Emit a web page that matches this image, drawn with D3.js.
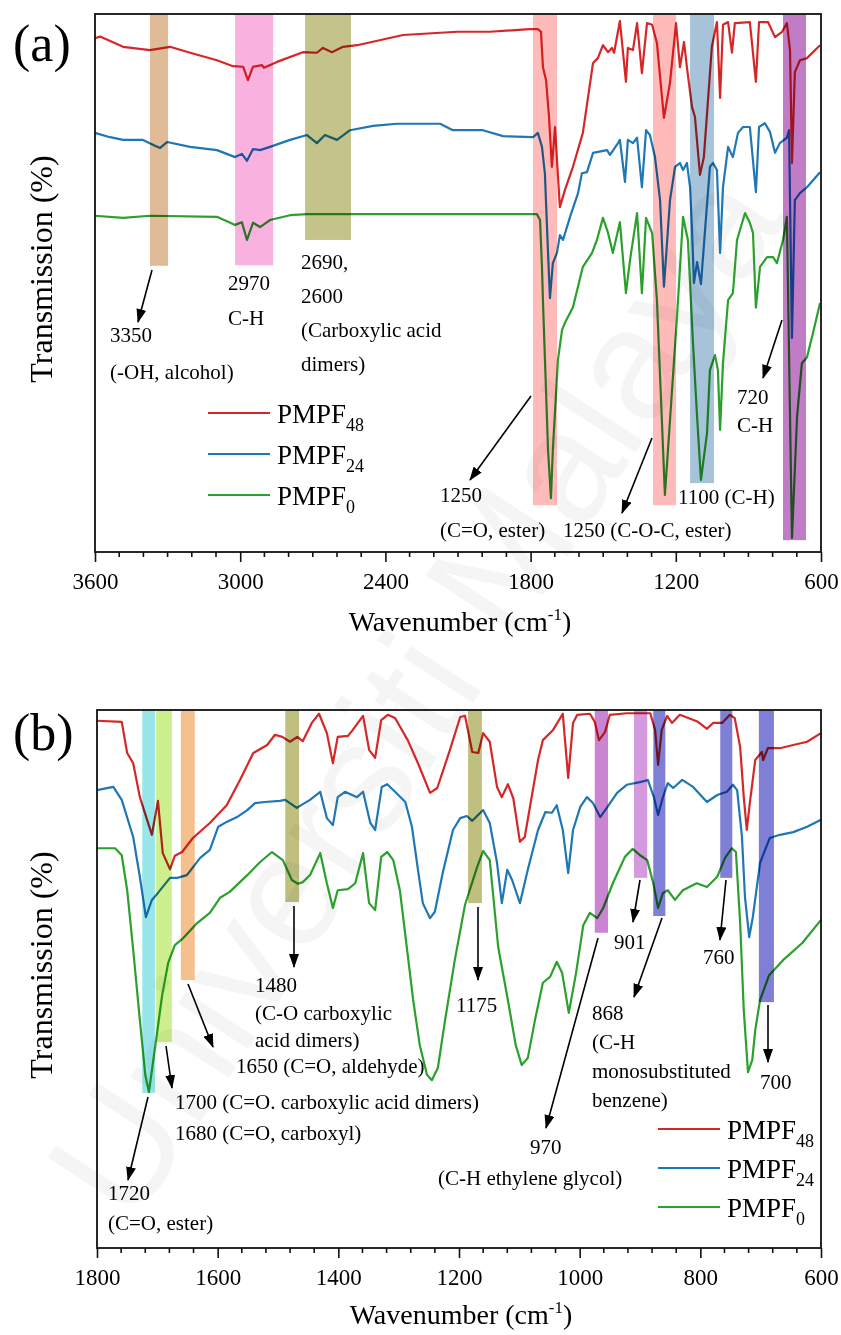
<!DOCTYPE html>
<html><head><meta charset="utf-8">
<script src="https://cdn.jsdelivr.net/npm/d3@7"></script>
<style>
body{margin:0;background:#fff}
svg{display:block}
text{font-family:"Liberation Serif","Times New Roman",serif;fill:#000}
</style>
</head><body>
<svg id="c" width="841" height="1335"></svg>
<script>
// ---------------- DATA ----------------
const seriesNames = ["PMPF48", "PMPF24", "PMPF0"];
const seriesBase = ["PMPF", "PMPF", "PMPF"];
const seriesSub = ["48", "24", "0"];

// Panel (a): [wavenumber cm-1, transmission (a.u., offset)]
const redA = [[3600,95.5],[3579,95.8],[3484,93.9],[3373,93.3],[3290,93.9],[3207,92.8],[3096,91.4],[3030,90.3],[2988,90.2],[2968,87.7],[2947,90.2],[2910,90.5],[2902,90.0],[2848,91.1],[2741,92.9],[2683,92.8],[2658,93.7],[2621,92.9],[2575,93.9],[2517,94.2],[2327,96.1],[2104,96.7],[1968,96.7],[1803,97.2],[1770,97.2],[1757,96.7],[1749,90.1],[1736,87.7],[1724,80.9],[1712,71.6],[1699,79.0],[1691,72.9],[1679,64.1],[1658,67.3],[1625,71.6],[1584,77.9],[1542,90.9],[1522,91.8],[1501,94.2],[1480,92.9],[1464,93.7],[1455,92.8],[1431,98.7],[1406,87.4],[1398,93.7],[1377,93.3],[1360,98.3],[1340,89.0],[1319,98.3],[1298,98.0],[1278,94.6],[1249,80.7],[1224,87.2],[1199,98.3],[1183,90.1],[1166,94.8],[1154,90.1],[1133,82.7],[1121,80.9],[1100,70.1],[1084,73.4],[1051,93.9],[1030,98.5],[1017,84.4],[1005,98.0],[984,98.5],[968,92.8],[956,98.3],[894,98.5],[869,87.4],[856,98.5],[819,98.5],[790,95.7],[761,96.7],[741,98.3],[728,93.3],[720,72.3],[708,89.2],[687,91.4],[658,91.8],[604,94.2]];
const blueA = [[3600,77.9],[3538,77.1],[3484,76.6],[3402,76.6],[3352,75.5],[3331,75.1],[3302,76.2],[3207,75.3],[3096,74.7],[3021,73.4],[2993,74.0],[2972,72.7],[2947,74.9],[2918,74.7],[2877,75.3],[2794,76.6],[2724,77.5],[2683,76.0],[2650,77.5],[2600,76.6],[2546,78.4],[2451,79.2],[2352,79.6],[2174,79.6],[2121,78.4],[1997,78.4],[1914,77.3],[1790,77.1],[1770,77.9],[1753,75.3],[1741,70.4],[1728,55.6],[1720,47.2],[1708,53.7],[1691,55.6],[1679,58.9],[1666,58.0],[1637,62.3],[1604,66.7],[1588,70.4],[1567,70.6],[1542,74.2],[1484,74.7],[1472,73.8],[1443,75.7],[1431,76.6],[1410,68.8],[1398,76.6],[1377,76.0],[1360,77.0],[1340,67.8],[1323,78.4],[1307,77.5],[1286,73.4],[1265,65.4],[1249,49.3],[1224,65.4],[1203,71.6],[1183,72.3],[1170,71.0],[1154,72.3],[1141,67.8],[1133,59.9],[1125,50.0],[1112,53.9],[1096,49.8],[1075,62.3],[1059,71.6],[1046,72.3],[1030,71.0],[1017,55.6],[1005,67.8],[984,75.3],[964,73.4],[943,77.9],[922,79.0],[894,79.0],[869,66.9],[856,79.0],[832,79.7],[811,78.1],[790,74.2],[770,76.0],[741,77.0],[732,78.4],[720,39.8],[708,65.4],[687,66.7],[658,67.8],[604,70.6]];
const greenA = [[3600,62.5],[3484,62.1],[3373,62.5],[3096,62.3],[3021,60.8],[2993,61.3],[2972,58.0],[2947,61.2],[2918,60.4],[2877,61.7],[2794,62.6],[2724,62.8],[1774,62.8],[1761,61.7],[1753,53.0],[1749,46.8],[1728,19.0],[1716,10.0],[1708,19.0],[1687,35.7],[1670,41.3],[1658,42.6],[1625,45.5],[1584,53.0],[1546,55.6],[1526,58.0],[1501,62.1],[1480,59.3],[1460,55.6],[1431,61.3],[1406,48.1],[1389,54.3],[1360,63.0],[1340,48.1],[1323,62.1],[1298,59.3],[1278,46.8],[1261,28.3],[1245,10.6],[1224,24.5],[1195,43.7],[1170,62.3],[1150,58.0],[1129,38.8],[1112,25.1],[1096,13.4],[1071,22.1],[1059,33.8],[1038,36.6],[1026,33.8],[1017,22.7],[1005,35.1],[984,46.8],[964,48.1],[947,58.0],[914,63.0],[894,61.2],[881,59.3],[869,45.4],[852,53.0],[823,54.8],[798,54.8],[782,53.7],[757,58.0],[741,62.3],[720,2.6],[699,25.1],[679,35.1],[658,36.2],[633,40.7],[604,46.3]];

// Panel (b)
const redB = [[1800,98.0],[1759,97.8],[1750,92.0],[1740,90.1],[1729,83.8],[1709,76.8],[1699,83.1],[1691,73.4],[1679,70.4],[1671,72.9],[1659,73.6],[1641,76.2],[1613,79.0],[1585,82.3],[1563,87.0],[1541,92.0],[1518,93.5],[1505,95.4],[1493,95.0],[1480,94.1],[1468,95.0],[1459,94.2],[1444,97.6],[1432,99.3],[1419,95.7],[1409,90.1],[1401,95.0],[1384,95.2],[1376,96.3],[1359,98.9],[1349,92.6],[1339,91.1],[1329,98.1],[1318,99.1],[1306,98.5],[1285,94.4],[1268,90.1],[1248,84.6],[1236,85.5],[1215,92.6],[1198,98.7],[1190,98.9],[1178,92.2],[1168,92.0],[1160,95.7],[1149,94.1],[1137,85.7],[1129,83.8],[1119,86.2],[1110,83.6],[1099,75.5],[1091,76.4],[1069,90.7],[1061,94.4],[1044,96.3],[1028,99.3],[1019,87.4],[1011,97.6],[1004,99.1],[983,99.3],[975,97.8],[968,94.4],[958,95.9],[950,99.1],[922,99.4],[883,99.4],[875,96.3],[870,89.8],[864,96.3],[855,98.9],[847,97.6],[834,99.1],[804,97.8],[789,96.5],[779,97.6],[764,97.6],[751,99.1],[743,98.5],[734,93.1],[728,83.8],[723,77.7],[718,82.7],[709,90.7],[698,92.2],[696,90.7],[688,92.9],[668,92.9],[646,93.5],[623,94.1],[600,95.7]];
const blueB = [[1800,85.1],[1773,85.7],[1759,83.3],[1740,76.4],[1729,69.0],[1719,61.5],[1709,64.7],[1699,66.0],[1679,68.8],[1667,68.8],[1651,69.3],[1629,72.5],[1613,74.0],[1599,78.3],[1585,79.2],[1568,80.1],[1551,81.4],[1538,82.7],[1522,82.9],[1497,83.1],[1488,83.3],[1469,81.8],[1447,83.3],[1430,84.8],[1419,79.9],[1409,78.6],[1401,83.8],[1389,84.8],[1369,83.8],[1359,84.8],[1347,79.0],[1339,77.7],[1328,85.7],[1319,86.2],[1306,84.8],[1289,82.9],[1278,78.3],[1268,70.3],[1260,64.1],[1248,61.3],[1240,62.5],[1227,69.7],[1210,77.7],[1198,79.9],[1187,80.3],[1178,79.4],[1160,81.4],[1149,79.0],[1137,71.6],[1129,64.1],[1120,70.3],[1112,68.4],[1099,64.1],[1086,70.3],[1069,77.7],[1057,81.0],[1046,80.9],[1038,82.3],[1028,77.7],[1019,69.7],[1011,77.7],[999,82.0],[988,83.8],[978,82.7],[966,80.1],[955,81.8],[938,84.6],[922,86.1],[900,86.6],[887,87.0],[877,83.8],[870,80.5],[862,83.8],[854,86.4],[845,85.5],[830,87.0],[812,85.7],[789,82.9],[772,84.2],[756,84.8],[746,86.1],[739,85.1],[731,76.4],[726,65.2],[719,57.8],[713,61.5],[701,71.6],[685,76.2],[668,76.8],[646,77.3],[623,78.3],[600,79.6]];
const greenB = [[1800,74.3],[1770,74.3],[1759,73.0],[1750,66.5],[1740,55.4],[1729,42.4],[1720,32.2],[1714,29.0],[1702,38.7],[1692,47.0],[1682,53.0],[1671,56.3],[1657,57.6],[1634,60.4],[1613,62.3],[1596,65.1],[1580,66.2],[1551,69.3],[1530,71.7],[1510,73.6],[1492,72.1],[1477,68.4],[1467,67.7],[1459,68.0],[1447,69.3],[1430,73.4],[1419,67.8],[1409,63.2],[1401,66.5],[1384,66.7],[1372,67.8],[1359,73.4],[1349,64.1],[1339,62.8],[1329,72.7],[1319,73.6],[1309,72.1],[1298,66.5],[1286,55.4],[1276,46.1],[1265,37.7],[1253,32.2],[1245,31.2],[1235,33.5],[1223,42.4],[1207,53.5],[1190,63.8],[1170,70.8],[1160,73.8],[1149,72.1],[1135,55.9],[1119,46.1],[1106,37.7],[1096,34.0],[1086,35.3],[1074,42.4],[1061,49.3],[1049,50.4],[1038,53.2],[1029,51.1],[1018,43.7],[1006,51.1],[994,60.0],[983,62.3],[971,61.3],[961,63.2],[945,67.8],[925,72.7],[912,74.2],[900,73.0],[888,72.1],[878,67.8],[870,63.2],[862,66.0],[854,66.5],[842,64.7],[829,66.5],[806,67.8],[789,67.1],[772,69.0],[759,72.5],[748,74.3],[741,73.6],[734,60.4],[728,44.2],[721,32.7],[714,34.9],[709,40.5],[701,46.1],[686,50.7],[663,53.5],[631,56.7],[600,61.0]];

// Highlighted absorption bands: [low cm-1, high cm-1, lower end (transmission)]
const bandsA = [[3298,3373,53.2],[2864,3021,53.3],[2542,2732,58.0],[1691,1790,8.7],[1199,1294,8.7],[1042,1141,12.8],[662,757,2.2]];
const bandsB = [[1704,1725,28.8],[1676,1702,38.3],[1638,1661,49.8],[1465,1488,64.3],[1162,1185,64.1],[953,975,58.6],[888,910,68.8],[858,878,61.7],[747,767,68.8],[678,703,45.7]];

// Axis ticks
const majorA = [3600,3000,2400,1800,1200,600];
const minorA = d3.range(3600, 599, -100);
const majorB = [1800,1600,1400,1200,1000,800,600];
const minorB = d3.range(1800, 599, -40);

// ---------------- STYLE / LAYOUT ----------------
const lineColors = ["#d62728", "#1f77b4", "#2ca02c"];
const bandColorsA = ["#dfbb98","#f9b2df","#c4c48a","#ffbaba","#ffbaba","#a6c3da","#c07dc6"];
const bandColorsB = ["#98e6ea","#cdef8e","#f6bf8e","#bfbf80","#bfbf80","#c985d2","#d49ade","#7f7fd6","#7f7fd6","#7f7fd6"];

const svg = d3.select("#c");

// very faint watermark
svg.append("text")
  .attr("transform", "translate(425,700) rotate(-57)")
  .attr("text-anchor", "middle").attr("dominant-baseline", "middle")
  .style("font-family", "'Liberation Sans',Arial,sans-serif")
  .style("font-size", "158px").style("fill", "#000").style("opacity", 0.035)
  .text("Universiti Malaya");

const defs = svg.append("defs");
defs.append("marker").attr("id", "ah")
  .attr("viewBox", "0 0 14 10").attr("refX", 13).attr("refY", 5)
  .attr("markerWidth", 14).attr("markerHeight", 10)
  .attr("markerUnits", "userSpaceOnUse").attr("orient", "auto")
  .append("path").attr("d", "M0,0L14,5L0,10z").attr("fill", "#000");

function drawPanel(cfg) {
  const g = svg.append("g").attr("transform", `translate(${cfg.left},${cfg.top})`);
  const x = d3.scaleLinear().domain(cfg.xDomain).range([0, cfg.w]);
  const y = d3.scaleLinear().domain([0, 100]).range([cfg.h, 0]);
  const line = d3.line().x(d => x(d[0])).y(d => y(d[1]));

  [2, 1, 0].forEach(i => {
    g.append("path").datum(cfg.series[i])
      .attr("d", line).attr("fill", "none")
      .attr("stroke", lineColors[i]).attr("stroke-width", 2.2)
      .attr("stroke-linejoin", "round");
  });

  g.selectAll("rect.band").data(cfg.bands).enter().append("rect")
    .attr("class", "band")
    .attr("x", d => x(d[1])).attr("width", d => x(d[0]) - x(d[1]))
    .attr("y", 0).attr("height", d => y(d[2]))
    .attr("fill", (d, i) => cfg.bandColors[i])
    .style("mix-blend-mode", "multiply");

  g.append("rect").attr("width", cfg.w).attr("height", cfg.h)
    .attr("fill", "none").attr("stroke", "#111").attr("stroke-width", 1.8);

  const ax = g.append("g").attr("transform", `translate(0,${cfg.h})`);
  ax.call(d3.axisBottom(x).tickValues(cfg.major).tickSize(10).tickFormat(d3.format("d")));
  ax.select(".domain").remove();
  ax.selectAll(".tick line").attr("stroke", "#111").attr("stroke-width", 1.6);
  ax.selectAll(".tick text").attr("y", 37).attr("dy", 0)
    .style("font-family", "'Liberation Serif','Times New Roman',serif")
    .style("font-size", "23px").attr("fill", "#000");
  ax.selectAll("line.minor").data(cfg.minor.filter(v => !cfg.major.includes(v))).enter()
    .append("line").attr("class", "minor")
    .attr("x1", d => x(d)).attr("x2", d => x(d)).attr("y1", 0).attr("y2", 5)
    .attr("stroke", "#111").attr("stroke-width", 1.6);

  const xt = g.append("text").attr("x", cfg.w / 2 + 2).attr("y", cfg.xTitleY)
    .attr("text-anchor", "middle").style("font-size", "28px");
  xt.append("tspan").text("Wavenumber (cm");
  xt.append("tspan").attr("dy", -11).style("font-size", "17px").text("-1");
  xt.append("tspan").attr("dy", 11).text(")");

  g.append("text")
    .attr("transform", `translate(${cfg.yTitleX},${cfg.yTitleY}) rotate(-90)`)
    .attr("text-anchor", "middle").style("font-size", "32px")
    .text("Transmission (%)");

  g.append("text").attr("x", cfg.letterX).attr("y", cfg.letterY)
    .style("font-size", "52px").text(cfg.letter);

  seriesNames.forEach((n, i) => {
    const ly = cfg.legY + i * cfg.legDy;
    g.append("line").attr("x1", cfg.legX).attr("x2", cfg.legX + 62)
      .attr("y1", ly).attr("y2", ly)
      .attr("stroke", lineColors[i]).attr("stroke-width", 2.2);
    const t = g.append("text").attr("x", cfg.legX + 69).attr("y", ly + 10)
      .style("font-size", "27px");
    t.append("tspan").text(seriesBase[i]);
    t.append("tspan").attr("dy", 8).style("font-size", "18px").text(seriesSub[i]);
  });

  cfg.notes.forEach(n => {
    g.append("text").attr("x", n[0] - cfg.left).attr("y", n[1] - cfg.top + 7)
      .style("font-size", "21px").text(n[2]);
  });
  cfg.arrows.forEach(a => {
    g.append("line")
      .attr("x1", a[0] - cfg.left).attr("y1", a[1] - cfg.top)
      .attr("x2", a[2] - cfg.left).attr("y2", a[3] - cfg.top)
      .attr("stroke", "#000").attr("stroke-width", 1.6)
      .attr("marker-end", "url(#ah)");
  });
}

drawPanel({
  left: 95, top: 14, w: 726, h: 538,
  xDomain: [3600, 600],
  series: [redA, blueA, greenA],
  bands: bandsA, bandColors: bandColorsA,
  major: majorA, minor: minorA,
  xTitleY: 617, yTitleX: -43, yTitleY: 255,
  letter: "(a)", letterX: -82, letterY: 47,
  legX: 113, legY: 399, legDy: 41,
  notes: [
    [110, 335, "3350"], [110, 372, "(-OH, alcohol)"],
    [228, 283, "2970"], [228, 318, "C-H"],
    [301, 262, "2690,"], [301, 296, "2600"], [301, 330, "(Carboxylic acid"], [301, 364, "dimers)"],
    [440, 495, "1250"], [440, 530, "(C=O, ester)"],
    [563, 530, "1250 (C-O-C, ester)"],
    [678, 497, "1100 (C-H)"],
    [737, 397, "720"], [737, 425, "C-H"]
  ],
  arrows: [
    [152, 270, 138, 322],
    [531, 396, 470, 480],
    [652, 438, 622, 513],
    [782, 320, 763, 378]
  ]
});

drawPanel({
  left: 97, top: 710, w: 724, h: 538,
  xDomain: [1800, 600],
  series: [redB, blueB, greenB],
  bands: bandsB, bandColors: bandColorsB,
  major: majorB, minor: minorB,
  xTitleY: 614, yTitleX: -45, yTitleY: 255,
  letter: "(b)", letterX: -84, letterY: 40,
  legX: 561, legY: 419, legDy: 39,
  notes: [
    [255, 985, "1480"], [255, 1013, "(C-O carboxylic"], [255, 1040, "acid dimers)"],
    [456, 1005, "1175"],
    [614, 942, "901"],
    [592, 1013, "868"], [592, 1042, "(C-H"], [592, 1071, "monosubstituted"], [592, 1100, "benzene)"],
    [703, 957, "760"],
    [760, 1082, "700"],
    [236, 1066, "1650 (C=O, aldehyde)"],
    [175, 1102, "1700 (C=O. carboxylic acid dimers)"],
    [175, 1133, "1680 (C=O, carboxyl)"],
    [108, 1193, "1720"], [108, 1223, "(C=O, ester)"],
    [530, 1147, "970"], [438, 1178, "(C-H ethylene glycol)"]
  ],
  arrows: [
    [148, 1097, 128, 1180],
    [166, 1046, 172, 1088],
    [188, 984, 213, 1047],
    [294, 906, 294, 967],
    [478, 907, 478, 980],
    [598, 938, 546, 1128],
    [640, 880, 633, 922],
    [662, 918, 634, 997],
    [726, 880, 720, 940],
    [768, 1005, 768, 1062]
  ]
});
</script>
</body></html>
